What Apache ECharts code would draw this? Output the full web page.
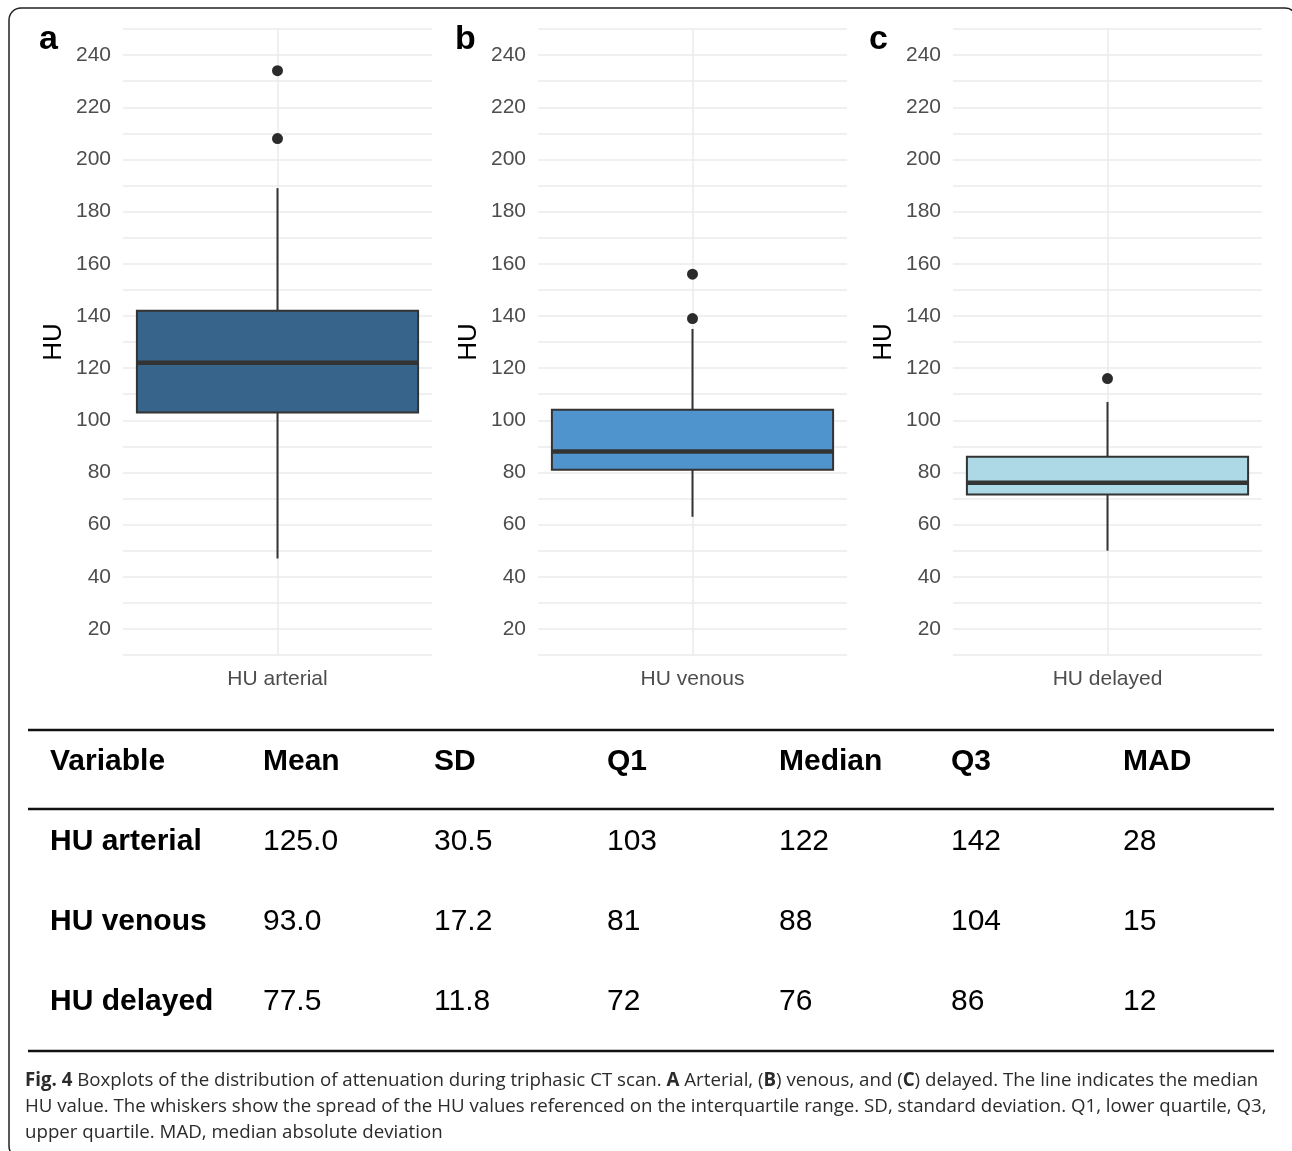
<!DOCTYPE html>
<html><head><meta charset="utf-8">
<script src="https://cdn.jsdelivr.net/npm/echarts@6/dist/echarts.min.js"></script>
<style>html,body{margin:0;padding:0;background:#fff}#chart{width:1292px;height:1151px}</style>
</head><body><div id="chart"></div>
<script>
// ---------- data ----------
const panelLetters = ['a', 'b', 'c'];
const categories = ['HU arterial', 'HU venous', 'HU delayed'];
// [lower whisker, Q1, median, Q3, upper whisker]
const boxArterial = [47, 103, 122, 142, 189];
const boxVenous = [63, 81, 88, 104, 135];
const boxDelayed = [50, 71.5, 76, 86, 107];
const outliersArterial = [234, 208];
const outliersVenous = [156, 139];
const outliersDelayed = [116];
const yTickLabels = [20, 40, 60, 80, 100, 120, 140, 160, 180, 200, 220, 240];
const boxColors = ['#36648B', '#4F94CD', '#ADD8E6'];

const tableHeader = ['Variable', 'Mean', 'SD', 'Q1', 'Median', 'Q3', 'MAD'];
const rowArterial = ['HU arterial', '125.0', '30.5', '103', '122', '142', '28'];
const rowVenous = ['HU venous', '93.0', '17.2', '81', '88', '104', '15'];
const rowDelayed = ['HU delayed', '77.5', '11.8', '72', '76', '86', '12'];

const captionLines = [
  '{b|Fig. 4} Boxplots of the distribution of attenuation during triphasic CT scan. {b|A} Arterial, ({b|B}) venous, and ({b|C}) delayed. The line indicates the median',
  'HU value. The whiskers show the spread of the HU values referenced on the interquartile range. SD, standard deviation. Q1, lower quartile, Q3,',
  'upper quartile. MAD, median absolute deviation'
];

// ---------- layout ----------
const boxes = [boxArterial, boxVenous, boxDelayed];
const outliers = [outliersArterial, outliersVenous, outliersDelayed];
const gridLefts = [123, 538, 953];
const gridWidth = 309, gridTop = 29, gridHeight = 626;
const FONT = '"Liberation Sans", Arial, Helvetica, sans-serif';
const GRID_COLOR = '#ebebeb';
const STROKE = '#333333';

const grids = [], xAxes = [], yAxes = [], series = [];
for (let i = 0; i < 3; i++) {
  grids.push({left: gridLefts[i], top: gridTop, width: gridWidth, height: gridHeight, containLabel: false});
  xAxes.push({
    type: 'category', gridIndex: i, data: [categories[i]], boundaryGap: true,
    axisLine: {show: false}, axisTick: {show: false}, splitLine: {show: false},
    axisLabel: {color: '#4d4d4d', fontSize: 21, fontFamily: FONT, margin: 14}
  });
  yAxes.push({
    type: 'value', gridIndex: i, min: 10, max: 250, interval: 10,
    name: 'HU', nameLocation: 'middle', nameRotate: 90, nameGap: 56,
    nameTextStyle: {color: '#000', fontSize: 26, fontFamily: FONT},
    axisLine: {show: false}, axisTick: {show: false},
    axisLabel: {
      color: '#4d4d4d', fontSize: 21, fontFamily: FONT, margin: 12,
      formatter: v => (yTickLabels.indexOf(v) >= 0 ? String(v) : '')
    },
    splitLine: {show: true, lineStyle: {color: GRID_COLOR, width: 1.5}}
  });
}
// vertical gridline through each category center
for (let i = 0; i < 3; i++) {
  xAxes.push({
    type: 'value', gridIndex: i, min: 0, max: 2, interval: 1, position: 'top',
    axisLine: {show: false}, axisTick: {show: false}, axisLabel: {show: false},
    splitLine: {show: true, showMinLine: false, showMaxLine: false,
      lineStyle: {color: GRID_COLOR, width: 1.5}}
  });
}

function renderBox(params, api) {
  const x = api.value(0);
  const low = api.coord([x, api.value(1)]);
  const q1 = api.coord([x, api.value(2)]);
  const med = api.coord([x, api.value(3)]);
  const q3 = api.coord([x, api.value(4)]);
  const high = api.coord([x, api.value(5)]);
  const bw = api.size([1, 0])[0] * 0.91;
  const cx = low[0];
  return {
    type: 'group',
    children: [
      {type: 'line', shape: {x1: cx, y1: q3[1], x2: cx, y2: high[1]}, style: {stroke: STROKE, lineWidth: 2}},
      {type: 'line', shape: {x1: cx, y1: q1[1], x2: cx, y2: low[1]}, style: {stroke: STROKE, lineWidth: 2}},
      {type: 'rect', shape: {x: cx - bw / 2, y: q3[1], width: bw, height: q1[1] - q3[1]},
        style: {fill: api.visual('color'), stroke: STROKE, lineWidth: 2}},
      {type: 'line', shape: {x1: cx - bw / 2, y1: med[1], x2: cx + bw / 2, y2: med[1]},
        style: {stroke: STROKE, lineWidth: 4.5}}
    ]
  };
}

for (let i = 0; i < 3; i++) {
  series.push({
    type: 'custom', xAxisIndex: i, yAxisIndex: i,
    renderItem: renderBox,
    itemStyle: {color: boxColors[i]},
    encode: {x: 0, y: [1, 2, 3, 4, 5]},
    data: [[0].concat(boxes[i])],
    silent: true, z: 3
  });
  series.push({
    type: 'scatter', xAxisIndex: i, yAxisIndex: i,
    symbol: 'circle', symbolSize: 11,
    itemStyle: {color: '#2b2b2b', opacity: 1},
    data: outliers[i].map(v => [0, v]),
    silent: true, z: 4
  });
}

// ---------- graphics: letters, table, caption, frame ----------
const graphic = [];
graphic.push({type: 'rect', shape: {x: 9, y: 8, width: 1288, height: 1150, r: 12},
  style: {fill: 'none', stroke: '#222', lineWidth: 1.5}, z: 0});

const letterX = [39, 455, 869];
panelLetters.forEach((t, i) => graphic.push({
  type: 'text', x: letterX[i], y: 40,
  style: {text: t, font: 'bold 34px ' + FONT, fill: '#000', verticalAlign: 'middle', align: 'left'}
}));

const ruleYs = [730, 809, 1051];
ruleYs.forEach(y => graphic.push({type: 'line', shape: {x1: 28, y1: y, x2: 1274, y2: y},
  style: {stroke: '#111', lineWidth: 2.5}}));

const colX = [50, 263, 434, 607, 779, 951, 1123];
const rowY = [762, 842, 922, 1002];
const tableRows = [tableHeader, rowArterial, rowVenous, rowDelayed];
tableRows.forEach((row, r) => row.forEach((cell, c) => graphic.push({
  type: 'text', x: colX[c], y: rowY[r],
  style: {text: cell, font: ((r === 0 || c === 0) ? 'bold ' : '') + '30px ' + FONT,
    fill: '#000', verticalAlign: 'middle', align: 'left'}
})));

const CAP_FONT = '18.7px "Open Sans", sans-serif';
const CAP_BOLD = 'bold 18.7px "Open Sans", sans-serif';
const capY = [1081, 1107, 1133];
captionLines.forEach((line, i) => graphic.push({
  type: 'text', x: 25, y: capY[i],
  style: {text: line, font: CAP_FONT, fill: '#2b2b2b', verticalAlign: 'middle', align: 'left',
    rich: {b: {font: CAP_BOLD, fill: '#2b2b2b'}}}
}));

const chart = echarts.init(document.getElementById('chart'), null, {renderer: 'canvas'});
chart.setOption({
  backgroundColor: '#ffffff',
  animation: false,
  grid: grids, xAxis: xAxes, yAxis: yAxes, series: series,
  graphic: graphic
});
</script></body></html>
